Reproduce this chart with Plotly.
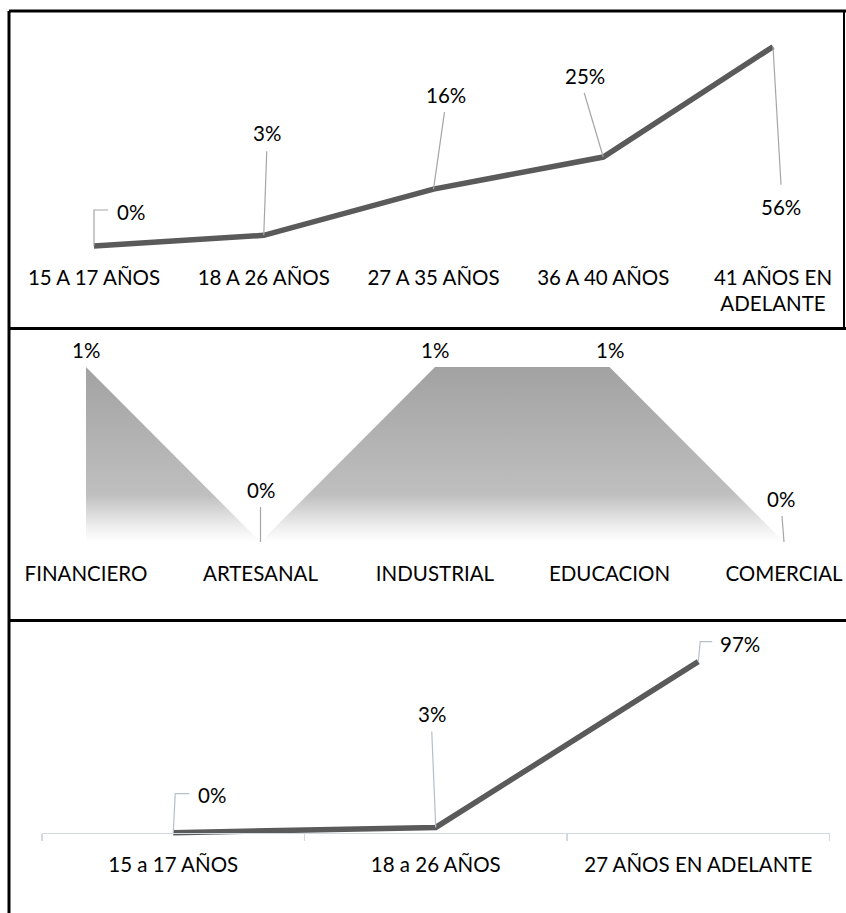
import plotly.graph_objects as go

W, H = 846, 913

# ---------------- data ----------------
age_cats = ["15 A 17 AÑOS", "18 A 26 AÑOS", "27 A 35 AÑOS", "36 A 40 AÑOS", "41 AÑOS EN<br>ADELANTE"]
age_vals = [0, 3, 16, 25, 56]

sector_cats = ["FINANCIERO", "ARTESANAL", "INDUSTRIAL", "EDUCACION", "COMERCIAL"]
sector_vals = [1, 0, 1, 1, 0]

age2_cats = ["15 a 17 AÑOS", "18 a 26 AÑOS", "27 AÑOS EN ADELANTE"]
age2_vals = [0, 3, 97]

# ---------------- style ----------------
FONT = "Lato, 'Open Sans', sans-serif"
FS = 20.5
LINE_COL = "#5a5a5a"

# label offsets (dx, dy screen px, dy down) and leader paths (screen px offsets)
p1_lab = [(37, -34), (3, -102), (12, -94), (-18, -81), (8, 160)]
p1_lead = [[(0, 0), (0, -36), (14, -36)], [(0, 0), (3, -84)], [(0, 0), (11, -77)],
           [(0, 0), (-19, -64)], [(0, 0), (8, 138)]]
p2_lab = [(0, -17), (0, -52), (0, -17), (0, -17), (-3, -43)]
p2_lead = [None, [(0, 0), (0, -35)], None, None, [(0, 0), (-2, -26)]]
p3_lab = [(39, -38), (-4, -113), (42, -18)]
p3_lead = [[(0, 0), (2, -39), (16, -39)], [(0, 0), (-4, -96)], [(0, 0), (2, -20), (14, -20)]]

fig = go.Figure()


def yaxis_cfg(top, bot, zero, unit):
    r0 = -(bot - zero) / unit
    r1 = r0 + (bot - top) / unit
    return dict(domain=[1 - bot / H, 1 - top / H], range=[r0, r1], visible=False,
                showgrid=False, zeroline=False, fixedrange=True)


def path_str(pts):
    # pixel-size shapes: y positive upward
    return "M" + " L".join(f"{dx},{-dy}" for dx, dy in pts)


def add_labels(xr, yr, vals, labs, leads, lead_col):
    for i, v in enumerate(vals):
        dx, dy = labs[i]
        fig.add_annotation(x=i, y=v, xref=xr, yref=yr, text=f"{v}%", showarrow=False,
                           xshift=dx, yshift=-dy, font=dict(family=FONT, size=FS, color="#000"))
        if leads[i]:
            fig.add_shape(type="path", xref=xr, yref=yr, xsizemode="pixel", ysizemode="pixel",
                          xanchor=i, yanchor=v, path=path_str(leads[i]),
                          line=dict(color=lead_col, width=1.2), layer="above")


# ---- panel 1 ----
fig.add_trace(go.Scatter(x=list(range(len(age_cats))), y=age_vals, mode="lines",
                         line=dict(color=LINE_COL, width=5.5), xaxis="x", yaxis="y",
                         hoverinfo="skip", showlegend=False))
# ---- panel 2 ----
fig.add_trace(go.Scatter(x=list(range(len(sector_cats))), y=sector_vals, mode="lines",
                         line=dict(color="rgba(0,0,0,0)", width=0), fill="tozeroy",
                         fillgradient=dict(type="vertical", start=0, stop=1,
                                           colorscale=[[0, "#ffffff"], [0.08, "#f0f0f0"],
                                                       [0.27, "#bfbfbf"], [1, "#a2a2a2"]]),
                         xaxis="x2", yaxis="y2", hoverinfo="skip", showlegend=False))
# ---- panel 3 ----
fig.add_trace(go.Scatter(x=list(range(len(age2_cats))), y=age2_vals, mode="lines",
                         line=dict(color=LINE_COL, width=5.5), xaxis="x3", yaxis="y3",
                         hoverinfo="skip", showlegend=False))

add_labels("x", "y", age_vals, p1_lab, p1_lead, "#a6a6a6")
add_labels("x2", "y2", sector_vals, p2_lab, p2_lead, "#a6a6a6")
add_labels("x3", "y3", age2_vals, p3_lab, p3_lead, "#b4bfcd")


def xaxis_cfg(n, cats, zero, x0=None, step=None, dom=(0, 1), rng=None, showline=False, minor=False):
    if rng is None:
        r0 = -x0 / step
        rng = [r0, r0 + W / step]
    d = dict(domain=list(dom), range=rng, anchor="free", position=1 - zero / H,
             tickmode="array", tickvals=list(range(n)), ticktext=cats,
             ticks="outside", ticklen=7, tickcolor="rgba(0,0,0,0)",
             ticklabelstandoff=6, showgrid=False, zeroline=False,
             showline=showline, linecolor="#d3d9e2", linewidth=1.2,
             tickfont=dict(family=FONT, size=FS, color="#000"), fixedrange=True)
    if minor:
        d["minor"] = dict(tickmode="array", tickvals=[i - 0.5 for i in range(n + 1)],
                          ticks="outside", ticklen=7, tickcolor="#d3d9e2", tickwidth=1.2,
                          showgrid=False)
    return d


fig.update_layout(
    width=W, height=H, margin=dict(l=0, r=0, t=0, b=0, pad=0),
    paper_bgcolor="white", plot_bgcolor="rgba(0,0,0,0)",
    xaxis=xaxis_cfg(5, age_cats, 246, x0=94, step=169.75),
    yaxis=yaxis_cfg(15, 252, 246, 3.559),
    xaxis2=xaxis_cfg(5, sector_cats, 542, x0=86, step=174.5),
    yaxis2=yaxis_cfg(335, 548, 542, 175),
    xaxis3=xaxis_cfg(3, age2_cats, 832.7, dom=(42 / W, 829.5 / W), rng=[-0.5, 2.5],
                     showline=True, minor=True),
    yaxis3=yaxis_cfg(628, 838, 832.7, 1.763),
)
fig.layout.yaxis2.update(anchor="x2")
fig.layout.yaxis3.update(anchor="x3")


# panel borders
def pline(x0, y0, x1, y1, w=3):
    fig.add_shape(type="line", xref="paper", yref="paper", x0=x0 / W, x1=x1 / W,
                  y0=1 - y0 / H, y1=1 - y1 / H, line=dict(color="#000", width=w), layer="above")


pline(9, 11, 9, 913)
pline(9, 11, 846, 11)
pline(844, 11, 844, 328.5, 2)
pline(9, 328.5, 846, 328.5)
pline(9, 620.5, 846, 620.5)

fig.write_html("out.html", config={"displayModeBar": False, "staticPlot": True},
               post_script="document.body.style.margin='0';document.body.style.overflow='hidden';")
